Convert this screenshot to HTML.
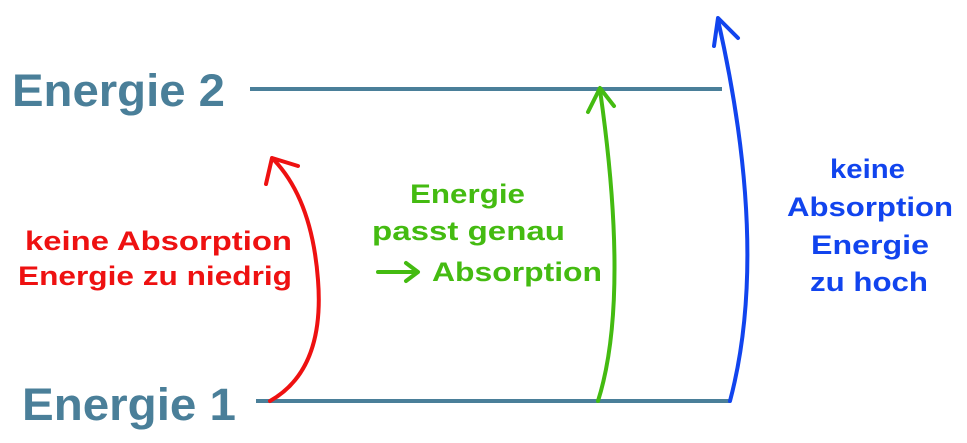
<!DOCTYPE html>
<html><head><meta charset="utf-8"><style>
html,body{margin:0;padding:0;background:#fff;}
svg{display:block;}
text{font-family:"Liberation Sans",Arial,sans-serif;font-weight:bold;}
</style></head><body>
<svg width="967" height="443" viewBox="0 0 967 443" xmlns="http://www.w3.org/2000/svg">
<rect width="967" height="443" fill="#fff"/>
<text x="12" y="106" font-size="45" fill="#4a7f99" textLength="213" lengthAdjust="spacingAndGlyphs">Energie 2</text>
<text x="22" y="420" font-size="45" fill="#4a7f99" textLength="214" lengthAdjust="spacingAndGlyphs">Energie 1</text>
<line x1="250" y1="89" x2="722" y2="89" stroke="#4a7f99" stroke-width="4"/>
<line x1="256" y1="401" x2="730" y2="401" stroke="#4a7f99" stroke-width="4"/>
<g fill="none" stroke-width="4" stroke-linecap="round" stroke-linejoin="round">
<path d="M270 401 Q325 370 318 280 Q312 200 274 160" stroke="#ee1111"/>
<path d="M266 184 L272 158 L298 166" stroke="#ee1111"/>
<path d="M598 401 Q630 300 600 90" stroke="#44bb11"/>
<path d="M588 112 L600 88 L614 106" stroke="#44bb11"/>
<path d="M730 401 Q770 250 718 20" stroke="#1144ee"/>
<path d="M714 46 L718 18 L738 38" stroke="#1144ee"/>
<path d="M378 272 L416 272 M406 263 L418 272 L406 281" stroke="#44bb11"/>
</g>
<g font-size="27" fill="#ee1111">
<text x="25" y="250" textLength="267" lengthAdjust="spacingAndGlyphs">keine Absorption</text>
<text x="18" y="285" textLength="274" lengthAdjust="spacingAndGlyphs">Energie zu niedrig</text>
</g>
<g font-size="27" fill="#44bb11">
<text x="410" y="203" textLength="115" lengthAdjust="spacingAndGlyphs">Energie</text>
<text x="372" y="240" textLength="193" lengthAdjust="spacingAndGlyphs">passt genau</text>
<text x="432" y="281" textLength="170" lengthAdjust="spacingAndGlyphs">Absorption</text>
</g>
<g font-size="27" fill="#1144ee">
<text x="830" y="178" textLength="75" lengthAdjust="spacingAndGlyphs">keine</text>
<text x="787" y="216" textLength="166" lengthAdjust="spacingAndGlyphs">Absorption</text>
<text x="811" y="254" textLength="118" lengthAdjust="spacingAndGlyphs">Energie</text>
<text x="810" y="291" textLength="118" lengthAdjust="spacingAndGlyphs">zu hoch</text>
</g>
</svg>
</body></html>
